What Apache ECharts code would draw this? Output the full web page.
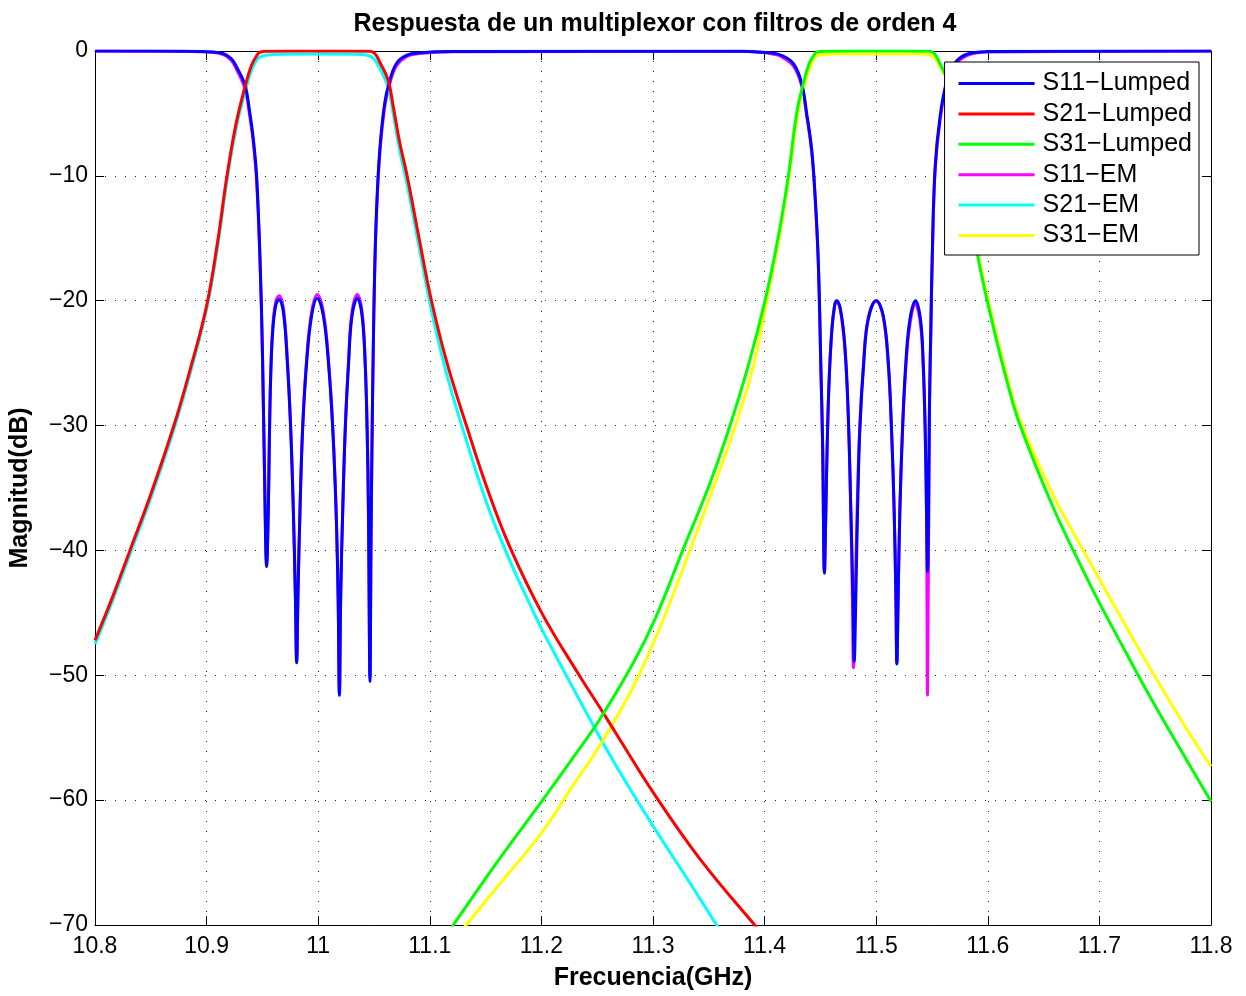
<!DOCTYPE html>
<html>
<head>
<meta charset="utf-8">
<title>Respuesta de un multiplexor con filtros de orden 4</title>
<script src="https://cdn.jsdelivr.net/npm/echarts@6/dist/echarts.min.js"></script>
<style>
  html, body { margin: 0; padding: 0; background: #fff; }
  #chart { width: 1246px; height: 996px; }
</style>
</head>
<body>
<div id="chart"></div>
<script>
// frequency (GHz) / magnitude (dB) pairs
const s11Lumped = [
  [10.80, 0], [10.88, -0.02], [10.905, -0.08], [10.915, -0.22], [10.922, -0.6], [10.927, -1.3],
  [10.9343, -2.7], [10.9385, -4.8], [10.9418, -7.0], [10.9448, -10.0], [10.9478, -16.4], [10.9501, -24.3],
  [10.9519, -33.8], [10.9538, -41.3],
  [10.9553, -36.8], [10.9562, -31.5], [10.9574, -26.2], [10.9592, -22.5], [10.9619, -20.4], [10.9649, -19.9],
  [10.9688, -20.9], [10.9723, -24.9], [10.9753, -30.2], [10.9777, -36.8], [10.9795, -43.5], [10.9807, -49.0],
  [10.9819, -43.5], [10.9837, -36.8], [10.9861, -30.2], [10.9897, -24.9], [10.9941, -21.2], [10.9992, -19.8],
  [11.0046, -21.2], [11.0091, -24.9], [11.013, -30.2], [11.016, -36.8], [11.0178, -43.5], [11.019, -51.6],
  [11.0202, -43.5], [11.022, -36.8], [11.0243, -30.2], [11.0273, -24.9], [11.0303, -21.2], [11.0351, -19.8],
  [11.0393, -21.2], [11.042, -24.9], [11.0438, -30.2], [11.045, -36.8], [11.0464, -50.5],
  [11.0473, -39.5], [11.0482, -31.5], [11.0493, -24.0], [11.0505, -18.0], [11.0522, -12.9], [11.0552, -7.9],
  [11.0597, -4.1], [11.0642, -2.35], [11.0701, -1.0], [11.0791, -0.35], [11.091, -0.15], [11.12, -0.05],
  [11.38, -0.02], [11.395, -0.08], [11.405, -0.15], [11.4138, -0.3], [11.4257, -1.0], [11.4332, -2.6],
  [11.4377, -5.0], [11.4422, -7.9], [11.4452, -11.5], [11.4481, -16.8], [11.4505, -25.6], [11.452, -31.5],
  [11.4536, -41.8],
  [11.4549, -36.8], [11.4561, -31.5], [11.4579, -26.2], [11.4603, -22.3], [11.4627, -20.4], [11.4645, -20.0],
  [11.468, -20.7], [11.4719, -23.6], [11.4749, -28.9], [11.4773, -36.8], [11.4791, -43.5], [11.4803, -48.9],
  [11.4818, -43.5], [11.4833, -36.8], [11.4854, -30.2], [11.4889, -24.9], [11.4928, -21.5], [11.5, -20.0],
  [11.5063, -21.2], [11.5108, -24.9], [11.5137, -30.2], [11.5161, -36.8], [11.5176, -43.5], [11.5185, -49.1],
  [11.5197, -43.5], [11.5212, -36.8], [11.5236, -30.2], [11.5266, -24.9], [11.5302, -21.5], [11.5352, -20.0],
  [11.5397, -21.5], [11.5421, -24.9], [11.5439, -30.2], [11.5451, -36.8], [11.546, -41.7],
  [11.5478, -28.0], [11.549, -22.0], [11.5502, -16.5], [11.5528, -9.3], [11.5573, -5.2], [11.5633, -2.4],
  [11.5707, -0.95], [11.5812, -0.26], [11.599, -0.05], [11.80, 0]
];

const s11EM = [
  [10.80, 0], [10.88, -0.03], [10.905, -0.1], [10.915, -0.3], [10.922, -0.75], [10.927, -1.5],
  [10.9343, -3.0], [10.9385, -5.1], [10.9418, -7.3], [10.9448, -10.4], [10.9478, -16.8], [10.9501, -24.6],
  [10.9519, -34.0], [10.9538, -41.0],
  [10.9553, -36.6], [10.9562, -31.3], [10.9574, -26.0], [10.9592, -22.2], [10.9619, -20.1], [10.9649, -19.6],
  [10.9688, -20.6], [10.9723, -24.6], [10.9753, -30.0], [10.9777, -36.6], [10.9795, -43.3], [10.9807, -48.8],
  [10.9819, -43.3], [10.9837, -36.6], [10.9861, -30.0], [10.9897, -24.6], [10.9941, -20.9], [10.9992, -19.5],
  [11.0046, -20.9], [11.0091, -24.6], [11.013, -30.0], [11.016, -36.6], [11.0178, -43.3], [11.019, -51.4],
  [11.0202, -43.3], [11.022, -36.6], [11.0243, -30.0], [11.0273, -24.6], [11.0303, -20.9], [11.0351, -19.5],
  [11.0393, -20.9], [11.042, -24.6], [11.0438, -30.0], [11.045, -36.6], [11.0464, -50.2],
  [11.0473, -39.5], [11.0482, -31.5], [11.0493, -24.2], [11.0505, -18.3], [11.0522, -13.2], [11.0552, -8.2],
  [11.0597, -4.4], [11.0642, -2.6], [11.0701, -1.2], [11.0791, -0.45], [11.091, -0.2], [11.12, -0.06],
  [11.38, -0.03], [11.395, -0.1], [11.405, -0.2], [11.4138, -0.4], [11.4257, -1.2], [11.4332, -2.8],
  [11.4377, -5.2], [11.4422, -8.1], [11.4452, -11.7], [11.4481, -17.0], [11.4505, -25.8], [11.452, -31.6],
  [11.4536, -41.8],
  [11.4549, -36.8], [11.4561, -31.5], [11.4579, -26.2], [11.4603, -22.3], [11.4627, -20.4], [11.4645, -20.0],
  [11.468, -20.8], [11.4719, -23.8], [11.4749, -29.2], [11.4773, -37.2], [11.4787, -44.0], [11.4796, -49.4],
  [11.4812, -43.5], [11.4829, -36.8], [11.4852, -30.2], [11.4887, -24.9], [11.4926, -21.5], [11.5, -20.0],
  [11.5063, -21.3], [11.5108, -25.1], [11.5137, -30.4], [11.5161, -37.0], [11.5176, -43.5], [11.5185, -49.0],
  [11.5197, -43.5], [11.5212, -36.9], [11.5236, -30.5], [11.5266, -25.3], [11.5302, -21.9], [11.5352, -20.3],
  [11.5397, -21.9], [11.5421, -25.3], [11.5439, -30.6], [11.5451, -37.5], [11.546, -51.6],
  [11.5478, -28.4], [11.549, -22.3], [11.5502, -16.8], [11.5528, -9.6], [11.5573, -5.5], [11.5633, -2.7],
  [11.5707, -1.15], [11.5812, -0.36], [11.599, -0.08], [11.80, 0]
];

const s21Lumped = [
  [10.80, -47.2], [10.815, -43.9], [10.8313, -40.0], [10.85, -35.5], [10.8707, -30.0], [10.885, -25.6],
  [10.90, -20.4], [10.91, -15.2], [10.9179, -10.2], [10.926, -6.0], [10.9343, -2.9], [10.94, -1.2],
  [10.945, -0.35], [10.9478, -0.1], [10.955, -0.02], [11.0, 0], [11.046, -0.02], [11.0507, -0.2],
  [11.0552, -0.9], [11.0627, -2.35], [11.0672, -4.4], [11.0731, -7.35], [11.0797, -10.0], [11.0904, -15.0],
  [11.1015, -20.0], [11.1155, -25.0], [11.1328, -30.0], [11.1513, -35.0], [11.1716, -39.7], [11.2009, -45.1],
  [11.2346, -50.1], [11.2525, -52.6], [11.27, -55.1], [11.3003, -59.4], [11.342, -64.7], [11.393, -70.2],
  [11.41, -71.9]
];

const s21EM = [
  [10.80, -47.5], [10.815, -44.2], [10.8313, -40.3], [10.85, -35.8], [10.8707, -30.3], [10.885, -25.9],
  [10.90, -20.7], [10.91, -15.6], [10.9179, -10.6], [10.926, -6.4], [10.9343, -3.3], [10.94, -1.6],
  [10.945, -0.7], [10.95, -0.4], [10.96, -0.28], [11.0, -0.25], [11.04, -0.28], [11.046, -0.4],
  [11.0507, -0.7], [11.0552, -1.4], [11.0627, -2.9], [11.0672, -5.0], [11.0731, -8.0], [11.0797, -10.7],
  [11.0904, -15.7], [11.1015, -20.8], [11.1155, -26.0], [11.1328, -31.2], [11.1513, -36.3], [11.1716, -40.8],
  [11.187, -43.8], [11.2003, -46.3], [11.2495, -54.5], [11.27, -57.7], [11.3003, -62.1], [11.33, -66.2],
  [11.357, -70.0], [11.37, -71.8]
];

const s31Lumped = [
  [11.10, -72.6], [11.121, -70.0], [11.16, -65.0], [11.2003, -60.1], [11.23, -56.4], [11.2525, -53.5],
  [11.2824, -49.0], [11.3018, -45.5], [11.3266, -40.0], [11.3511, -34.6], [11.369, -30.0], [11.386, -25.0],
  [11.4004, -20.0], [11.412, -15.0], [11.4213, -10.0], [11.4287, -5.0], [11.4347, -2.6], [11.44, -1.0],
  [11.4445, -0.3], [11.4467, -0.1], [11.455, -0.02], [11.5, 0], [11.548, -0.02], [11.552, -0.2],
  [11.5565, -0.9], [11.564, -2.4], [11.5685, -4.5], [11.5745, -7.5], [11.581, -10.3], [11.5901, -16.0],
  [11.6036, -21.6], [11.617, -26.4], [11.629, -30.0], [11.6588, -36.6], [11.6887, -42.2], [11.70, -44.2],
  [11.7245, -48.3], [11.7484, -52.2], [11.7782, -56.8], [11.80, -60.1]
];

const s31EM = [
  [11.11, -72.4], [11.1325, -70.0], [11.16, -67.0], [11.2003, -62.6], [11.23, -58.6], [11.2525, -55.6],
  [11.2824, -50.9], [11.3093, -45.5], [11.3317, -40.3], [11.356, -34.5], [11.3735, -30.1], [11.39, -25.2],
  [11.4019, -20.0], [11.413, -15.0], [11.422, -10.0], [11.4295, -5.2], [11.4355, -2.8], [11.441, -1.2],
  [11.4455, -0.5], [11.45, -0.3], [11.46, -0.25], [11.54, -0.25], [11.548, -0.35], [11.552, -0.55],
  [11.5565, -1.1], [11.564, -2.5], [11.5685, -4.5], [11.5745, -7.4], [11.581, -10.1], [11.5901, -15.7],
  [11.6036, -21.2], [11.617, -26.0], [11.629, -29.6], [11.6588, -35.6], [11.6887, -40.5], [11.70, -42.3],
  [11.7245, -46.2], [11.7484, -49.9], [11.7782, -54.3], [11.80, -57.3]
];

const legendNames = ['S11\u2212Lumped', 'S21\u2212Lumped', 'S31\u2212Lumped', 'S11\u2212EM', 'S21\u2212EM', 'S31\u2212EM'];

// EM curves are drawn first so the lumped ones sit on top, as in the original plot
const seriesDefs = [
  { name: 'S11\u2212EM', data: s11EM, color: '#ff00ff' },
  { name: 'S21\u2212EM', data: s21EM, color: '#00ffff' },
  { name: 'S31\u2212EM', data: s31EM, color: '#ffff00' },
  { name: 'S11\u2212Lumped', data: s11Lumped, color: '#0000ff' },
  { name: 'S21\u2212Lumped', data: s21Lumped, color: '#ff0000' },
  { name: 'S31\u2212Lumped', data: s31Lumped, color: '#00ff00' },
];

const fontFamily = '"Liberation Sans", Arial, Helvetica, sans-serif';

const gridLine = { show: true, lineStyle: { color: '#222', width: 1, type: [1, 9] } };
const boxLine = { show: true, onZero: false, lineStyle: { color: '#000', width: 1 } };
const innerTick = { show: true, inside: true, length: 9, lineStyle: { color: '#000', width: 1 } };

const minusFormatter = (v) => (v < 0 ? '\u2212' + Math.abs(v) : String(v));

const chart = echarts.init(document.getElementById('chart'), null, { renderer: 'canvas' });

const option = {
  animation: false,
  backgroundColor: '#fff',
  textStyle: { fontFamily },
  title: {
    text: 'Respuesta de un multiplexor con filtros de orden 4',
    left: 650,
    top: 7,
    textAlign: 'center',
    textStyle: { fontFamily, fontSize: 25, fontWeight: 'bold', color: '#000' },
  },
  grid: { left: 95, right: 35, top: 51, bottom: 65, containLabel: false },
  legend: {
    data: legendNames,
    orient: 'vertical',
    right: 47,
    top: 62,
    backgroundColor: '#fff',
    borderColor: '#000',
    borderWidth: 1,
    borderRadius: 0,
    padding: [9, 7, 7, 14],
    icon: 'rect',
    itemWidth: 76,
    itemHeight: 3,
    itemGap: 5.4,
    selectedMode: false,
    textStyle: { fontFamily, fontSize: 25, color: '#000', padding: [0, 0, 0, 3] },
    z: 10,
  },
  xAxis: [
    {
      type: 'value',
      position: 'bottom',
      min: 10.8,
      max: 11.8,
      interval: 0.1,
      axisLine: boxLine,
      axisTick: innerTick,
      splitLine: gridLine,
      axisLabel: { fontFamily, fontSize: 23, color: '#000', margin: 10 },
      name: 'Frecuencia(GHz)',
      nameLocation: 'middle',
      nameGap: 41,
      nameTextStyle: { fontFamily, fontSize: 25, fontWeight: 'bold', color: '#000' },
    },
    {
      type: 'value',
      position: 'top',
      min: 10.8,
      max: 11.8,
      interval: 0.1,
      axisLine: boxLine,
      axisTick: innerTick,
      splitLine: { show: false },
      axisLabel: { show: false },
    },
  ],
  yAxis: [
    {
      type: 'value',
      position: 'left',
      min: -70,
      max: 0,
      interval: 10,
      axisLine: boxLine,
      axisTick: innerTick,
      splitLine: gridLine,
      axisLabel: { fontFamily, fontSize: 23, color: '#000', margin: 7, formatter: minusFormatter },
      name: 'Magnitud(dB)',
      nameLocation: 'middle',
      nameGap: 62,
      nameRotate: 90,
      nameTextStyle: { fontFamily, fontSize: 25, fontWeight: 'bold', color: '#000' },
    },
    {
      type: 'value',
      position: 'right',
      min: -70,
      max: 0,
      interval: 10,
      axisLine: boxLine,
      axisTick: innerTick,
      splitLine: { show: false },
      axisLabel: { show: false },
    },
  ],
  series: seriesDefs.map((s) => ({
    name: s.name,
    type: 'line',
    xAxisIndex: 0,
    yAxisIndex: 0,
    data: s.data,
    color: s.color,
    showSymbol: false,
    symbol: 'none',
    smooth: 0.4,
    clip: true,
    lineStyle: { color: s.color, width: 3 },
    emphasis: { disabled: true },
  })),
};

chart.setOption(option);
</script>
</body>
</html>
